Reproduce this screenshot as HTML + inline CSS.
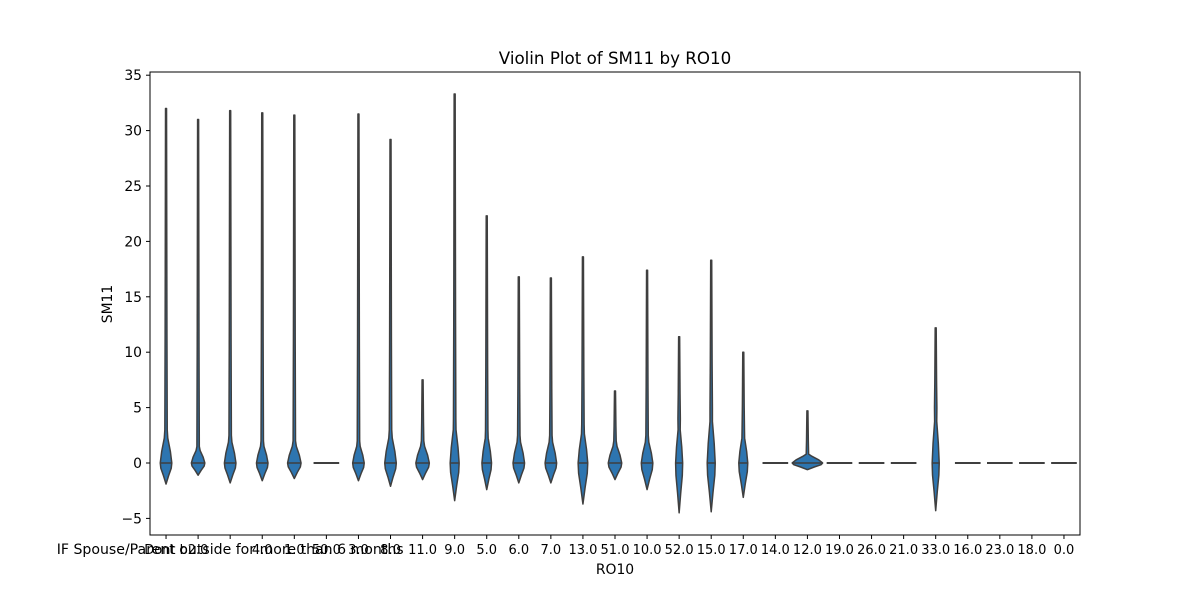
<!DOCTYPE html>
<html><head><meta charset="utf-8"><style>
body{margin:0;background:#fff;}
svg text{font-family:"DejaVu Sans","Liberation Sans",sans-serif;fill:#000;}
</style></head><body>
<svg id="chart" width="1200" height="600" xmlns="http://www.w3.org/2000/svg">
<rect width="1200" height="600" fill="#fff"/>
<text x="615" y="64" font-size="16.7" text-anchor="middle">Violin Plot of SM11 by RO10</text>
<text x="615" y="574" font-size="13.9" text-anchor="middle">RO10</text>
<text x="112" y="304" font-size="13.9" text-anchor="middle" transform="rotate(-90 112 304)">SM11</text>
<g id="plot"></g>
<rect x="150" y="72" width="930" height="463" fill="none" stroke="#000" stroke-width="1"/>
</svg>
<script>
const categories=["Dont b","2.0","IF Spouse/Parent outside for more than 6 months","4.0","1.0","50.0","3.0","8.0","11.0","9.0","5.0","6.0","7.0","13.0","51.0","10.0","52.0","15.0","17.0","14.0","12.0","19.0","26.0","21.0","33.0","16.0","23.0","18.0","0.0"];
const maxVals=[32,31,31.8,31.6,31.4,0,31.5,29.2,7.5,33.3,22.3,16.8,16.7,18.6,6.5,17.4,11.4,18.3,10,0,4.7,0,0,0,12.2,0,0,0,0];
const minVals=[-1.9,-1.1,-1.8,-1.6,-1.4,0,-1.6,-2.1,-1.5,-3.4,-2.4,-1.8,-1.8,-3.7,-1.5,-2.4,-4.5,-4.4,-3.1,0,-0.6,0,0,0,-4.3,0,0,0,0];
const bodyTops=[3,1.5,2.5,2,2,0,2,3,2,4,3,2.5,2.5,3.5,2,2.5,4,5,3,0,0.8,0,0,0,5,0,0,0,0];
const densityWidth=[0.36,0.42,0.36,0.36,0.42,0,0.36,0.36,0.42,0.28,0.3,0.36,0.36,0.3,0.42,0.36,0.22,0.25,0.28,0,0.95,0,0,0,0.22,0,0,0,0];
const yTicks=[-5,0,5,10,15,20,25,30,35];
const NS="http://www.w3.org/2000/svg";
const L=150,R=1080,T=72,B=535;
const step=(R-L)/categories.length;
function xs(i){return L+step*(i+0.5);}
function ys(v){return 463-v*11.08;}
const g=document.getElementById('plot');
const svg=document.getElementById('chart');
function mk(t,a){const e=document.createElementNS(NS,t);for(const k in a)e.setAttribute(k,a[k]);return e;}
yTicks.forEach(v=>{
 const y=ys(v);
 const ln=mk('line',{x1:L-4,x2:L,y1:y,y2:y,stroke:'#000'});
 
 
 svg.appendChild(ln);
 const tx=mk('text',{x:L-8,y:y+5,'font-size':'13.9','text-anchor':'end'});
 
 
 tx.textContent=v<0?'\u2212'+Math.abs(v):String(v);
 svg.appendChild(tx);
});
categories.forEach((c,i)=>{
 const x=xs(i);
 const ln=mk('line',{x1:x,x2:x,y1:B,y2:B+4,stroke:'#000'});
 
 
 svg.appendChild(ln);
 const tx=mk('text',{x:x,y:B+19,'font-size':c.length>10?'14.1':'13','text-anchor':'middle'});
 
 
 tx.textContent=c;
 svg.appendChild(tx);
 const mx=maxVals[i],mn=minVals[i],bt=bodyTops[i],hw=densityWidth[i]*step/2;
 if(mx===mn){
  const f=mk('line',{x1:x-step*0.4,x2:x+step*0.4,y1:ys(mx),y2:ys(mx),stroke:'#3f3f3f','stroke-width':2});
  
  
  g.appendChild(f);
  return;
 }
 const pts=[[mn,0],[mn*0.6,hw*0.45],[mn*0.25,hw*0.9],[0,hw],[bt*0.35,hw*0.75],[bt*0.75,hw*0.3],[bt,1.2],[Math.min(bt+(mx-bt)*0.3,mx),0.9],[mx,0.5]];
 let d='M'+pts.map(p=>(x+p[1])+','+ys(p[0])).join(' L');
 d+=' L'+pts.slice().reverse().map(p=>(x-p[1])+','+ys(p[0])).join(' L')+' Z';
 const p=mk('path',{d:d,fill:'#2d75b0',stroke:'#3f3f3f','stroke-width':1.5,'stroke-linejoin':'round'});
 
 
 g.appendChild(p);
 const m=mk('line',{x1:x-hw,x2:x+hw,y1:ys(0),y2:ys(0),stroke:'#3f3f3f','stroke-width':1.5});
 
 
 g.appendChild(m);
});
</script>
</body></html>
